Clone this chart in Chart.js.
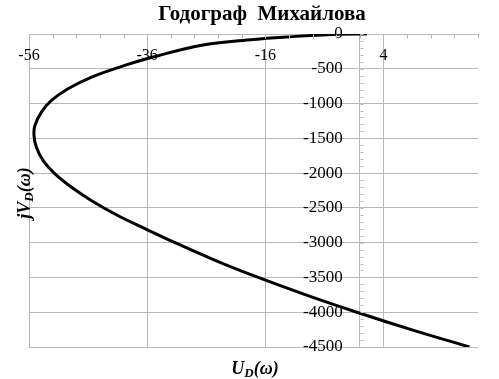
<!DOCTYPE html>
<html>
<head>
<meta charset="utf-8">
<script src="https://cdn.jsdelivr.net/npm/chart.js@4/dist/chart.umd.min.js"></script>
<style>
  html, body { margin: 0; padding: 0; background: #ffffff; }
  #wrap { width: 499px; height: 379px; position: relative; }
</style>
</head>
<body>
<div id="wrap"><canvas id="c" width="499" height="379"></canvas></div>
<script>
// ---- data ----
const chartTitle = "Годограф  Михайлова";
const uValues = [1.2, -3.9, -12.4, -18.0, -26.5, -35.0, -39.8, -45.4, -49.4, -52.2, -53.9, -55.0, -55.15, -54.75, -53.6, -51.6, -48.8, -45.4, -40.9, -36.2, -31.3, -24.6, -17.2, -9.15, -0.5, 8.7, 18.55];
const vValues = [0, -5, -43, -78, -158, -331, -452, -619, -788, -956, -1124, -1316, -1460, -1628, -1821, -2012, -2204, -2397, -2613, -2805, -3000, -3250, -3500, -3750, -4000, -4250, -4500];
const xTickValues = [-56, -36, -16, 0, 4];
const xMin = -56, xMax = 20;
const yMin = -4500, yMax = 0, yStep = 500;
const xMinorStep = 4, yMinorStep = 100;
const yLabelAnchor = -2.9; // x value where the y tick labels end (labels sit left of the x=0 line)

const points = uValues.map((u, i) => ({ x: u, y: vValues[i] }));
const gridColor = '#b9b9b9';
const serif = '"Liberation Serif", "Times New Roman", serif';

function drawSubText(ctx, parts, cx, cy, size) {
  let total = 0;
  const widths = parts.map(([t, sub]) => {
    ctx.font = 'italic bold ' + (sub ? Math.round(size * 0.7) : size) + 'px ' + serif;
    const w = ctx.measureText(t).width;
    total += w;
    return w;
  });
  let x = cx - total / 2;
  ctx.textBaseline = 'middle';
  ctx.textAlign = 'left';
  parts.forEach(([t, sub], i) => {
    ctx.font = 'italic bold ' + (sub ? Math.round(size * 0.7) : size) + 'px ' + serif;
    ctx.fillText(t, x, sub ? cy + size * 0.25 : cy);
    x += widths[i];
  });
}

const decor = {
  id: 'decor',
  afterDraw(chart) {
    const { ctx, scales: { x, y } } = chart;
    ctx.save();
    ctx.strokeStyle = gridColor;
    ctx.lineWidth = 1;
    const yAxisPx = Math.round(y.getPixelForValue(0)) + 0.5;
    for (let v = xMin; v <= xMax + 1e-9; v += xMinorStep) {
      const px = Math.round(x.getPixelForValue(v)) + 0.5;
      ctx.beginPath(); ctx.moveTo(px, yAxisPx); ctx.lineTo(px, yAxisPx + 4); ctx.stroke();
    }
    const xAxisPx = Math.round(x.getPixelForValue(0)) + 0.5;
    for (let v = yMax; v >= yMin - 1e-9; v -= yMinorStep) {
      const py = Math.round(y.getPixelForValue(v)) + 0.5;
      ctx.beginPath(); ctx.moveTo(xAxisPx, py); ctx.lineTo(xAxisPx + 3, py); ctx.stroke();
    }
    ctx.fillStyle = '#000';
    ctx.font = 'bold 21px ' + serif;
    ctx.textAlign = 'center';
    ctx.textBaseline = 'middle';
    ctx.fillText(chartTitle, 262, 15);
    drawSubText(ctx, [['U', false], ['D', true], ['(ω)', false]], 255, 369, 18);
    ctx.save();
    ctx.translate(25, 193);
    ctx.rotate(-Math.PI / 2);
    drawSubText(ctx, [['jV', false], ['D', true], ['(ω)', false]], 0, 0, 18);
    ctx.restore();
    ctx.restore();
  }
};

new Chart(document.getElementById('c'), {
  type: 'line',
  data: {
    datasets: [{
      data: points,
      borderColor: '#000',
      borderWidth: 3,
      pointRadius: 0,
      tension: 0.4,
      fill: false
    }]
  },
  options: {
    responsive: false,
    animation: false,
    layout: { padding: { left: 29, right: 21, top: 34, bottom: 32 } },
    plugins: { legend: { display: false }, title: { display: false }, tooltip: { enabled: false } },
    scales: {
      x: {
        type: 'linear',
        min: xMin, max: xMax,
        position: { y: 0 },
        afterBuildTicks: (scale) => { scale.ticks = xTickValues.map(v => ({ value: v })); },
        grid: { color: gridColor, lineWidth: 1, drawTicks: false },
        border: { display: true, color: gridColor, width: 1 },
        ticks: { color: '#000', font: { family: serif, size: 16 }, padding: 12, maxRotation: 0, autoSkip: false,
                 callback: v => (v === 0 ? '' : String(v)) }
      },
      y: {
        type: 'linear',
        min: yMin, max: yMax,
        position: { x: yLabelAnchor },
        grid: { color: gridColor, lineWidth: 1, drawTicks: false },
        border: { display: false },
        ticks: { stepSize: yStep, color: '#000', font: { family: serif, size: 17 }, padding: 0, autoSkip: false, callback: v => String(v) }
      }
    }
  },
  plugins: [decor]
});
</script>
</body>
</html>
